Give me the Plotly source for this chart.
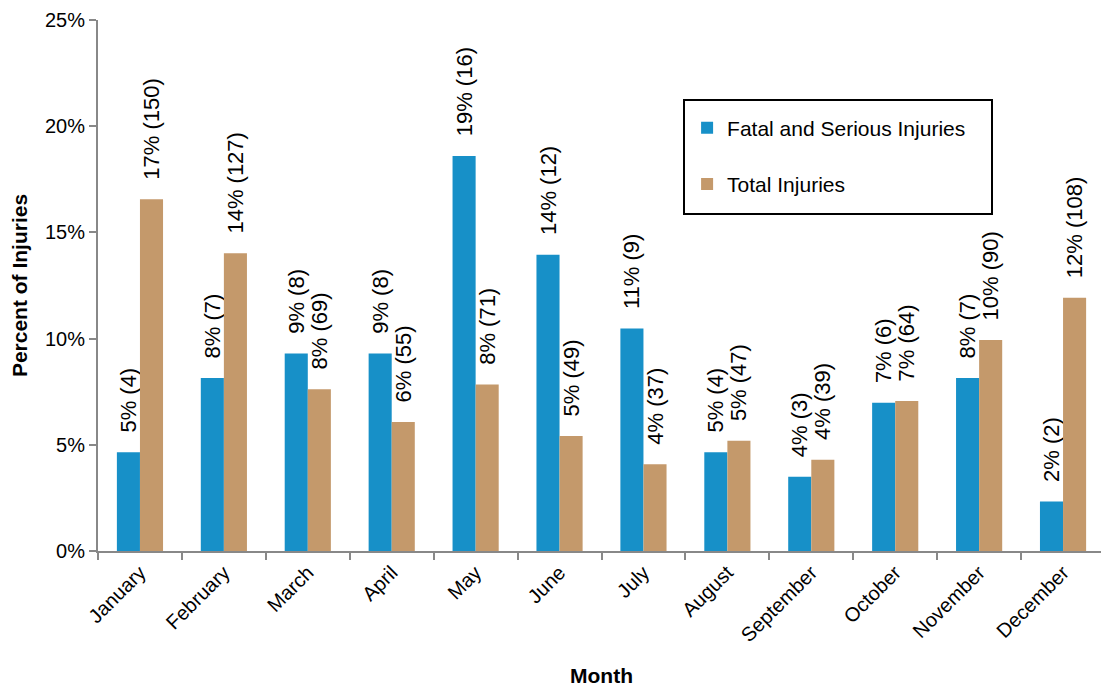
import plotly.graph_objects as go

months = ["January", "February", "March", "April", "May", "June", "July",
          "August", "September", "October", "November", "December"]
fatal_pct = [4.65, 8.14, 9.30, 9.30, 18.60, 13.95, 10.47, 4.65, 3.49, 6.98, 8.14, 2.33]
fatal_labels = ["5% (4)", "8% (7)", "9% (8)", "9% (8)", "19% (16)", "14% (12)", "11% (9)",
                "5% (4)", "4% (3)", "7% (6)", "8% (7)", "2% (2)"]
total_pct = [16.56, 14.02, 7.62, 6.07, 7.84, 5.41, 4.08, 5.19, 4.30, 7.06, 9.93, 11.92]
total_labels = ["17% (150)", "14% (127)", "8% (69)", "6% (55)", "8% (71)", "5% (49)", "4% (37)",
                "5% (47)", "4% (39)", "7% (64)", "10% (90)", "12% (108)"]
y_ticks = [0, 5, 10, 15, 20, 25]
y_tick_text = ["0%", "5%", "10%", "15%", "20%", "25%"]

FONT = "Liberation Sans, Arial, sans-serif"
pad = "\u00a0\u00a0\u2009"

# page has an 8px body margin, so the figure is sized to fit inside the window
W, H = 1101, 679
L, R, T, B = 90, 4, 12, 136
PW, PH = W - L - R, H - T - B

fig = go.Figure()
fig.add_trace(go.Bar(
    x=months, y=fatal_pct, name="Fatal and Serious Injuries",
    marker=dict(color="#1790C8", line=dict(width=0)),
    text=[pad + t for t in fatal_labels], textposition="outside", textangle=-90,
    textfont=dict(family=FONT, size=22, color="#000000"),
    cliponaxis=False, constraintext="none", legendgroup="a",
))
fig.add_trace(go.Bar(
    x=months, y=total_pct, name="Total Injuries",
    marker=dict(color="#C4996B", line=dict(width=0)),
    text=[pad + t for t in total_labels], textposition="outside", textangle=-90,
    textfont=dict(family=FONT, size=22, color="#000000"),
    cliponaxis=False, constraintext="none", legendgroup="b",
))

fig.update_layout(
    width=W, height=H,
    margin=dict(l=L, r=R, t=T, b=B, autoexpand=False),
    paper_bgcolor="white", plot_bgcolor="white",
    barmode="group", bargap=0.45, bargroupgap=0,
    font=dict(family=FONT, size=20, color="#000000"),
    showlegend=True,
    legend=dict(
        x=0.585, y=0.835, xanchor="left", yanchor="top",
        bgcolor="rgba(0,0,0,0)", borderwidth=0,
        font=dict(family=FONT, size=21, color="#000000"),
        tracegroupgap=26, itemwidth=30,
    ),
    shapes=[dict(type="rect", xref="paper", yref="paper",
                 x0=(676 - L) / PW, x1=(984 - L) / PW,
                 y0=(H - B - 206) / PH, y1=(H - B - 92) / PH,
                 line=dict(color="#000000", width=2), fillcolor="rgba(0,0,0,0)")],
)
fig.update_xaxes(
    type="category", tickangle=-45, tickson="boundaries", automargin=False,
    ticks="outside", ticklen=7, tickcolor="#888888", tickwidth=2,
    showline=True, linecolor="#888888", linewidth=2, showgrid=False,
    tickfont=dict(family=FONT, size=20, color="#000000"),
    title=dict(text="<b>Month</b>", font=dict(family=FONT, size=21, color="#000000"), standoff=24),
)
fig.update_yaxes(
    range=[0, 25], tickmode="array", tickvals=y_ticks, ticktext=y_tick_text, automargin=False,
    ticks="outside", ticklen=7, tickcolor="#888888", tickwidth=2,
    showline=True, linecolor="#888888", linewidth=2, showgrid=False, zeroline=False,
    tickfont=dict(family=FONT, size=20, color="#000000"),
    title=dict(text="<b>Percent of Injuries</b>", font=dict(family=FONT, size=21, color="#000000"), standoff=14),
)

fig.write_html("out.html")
